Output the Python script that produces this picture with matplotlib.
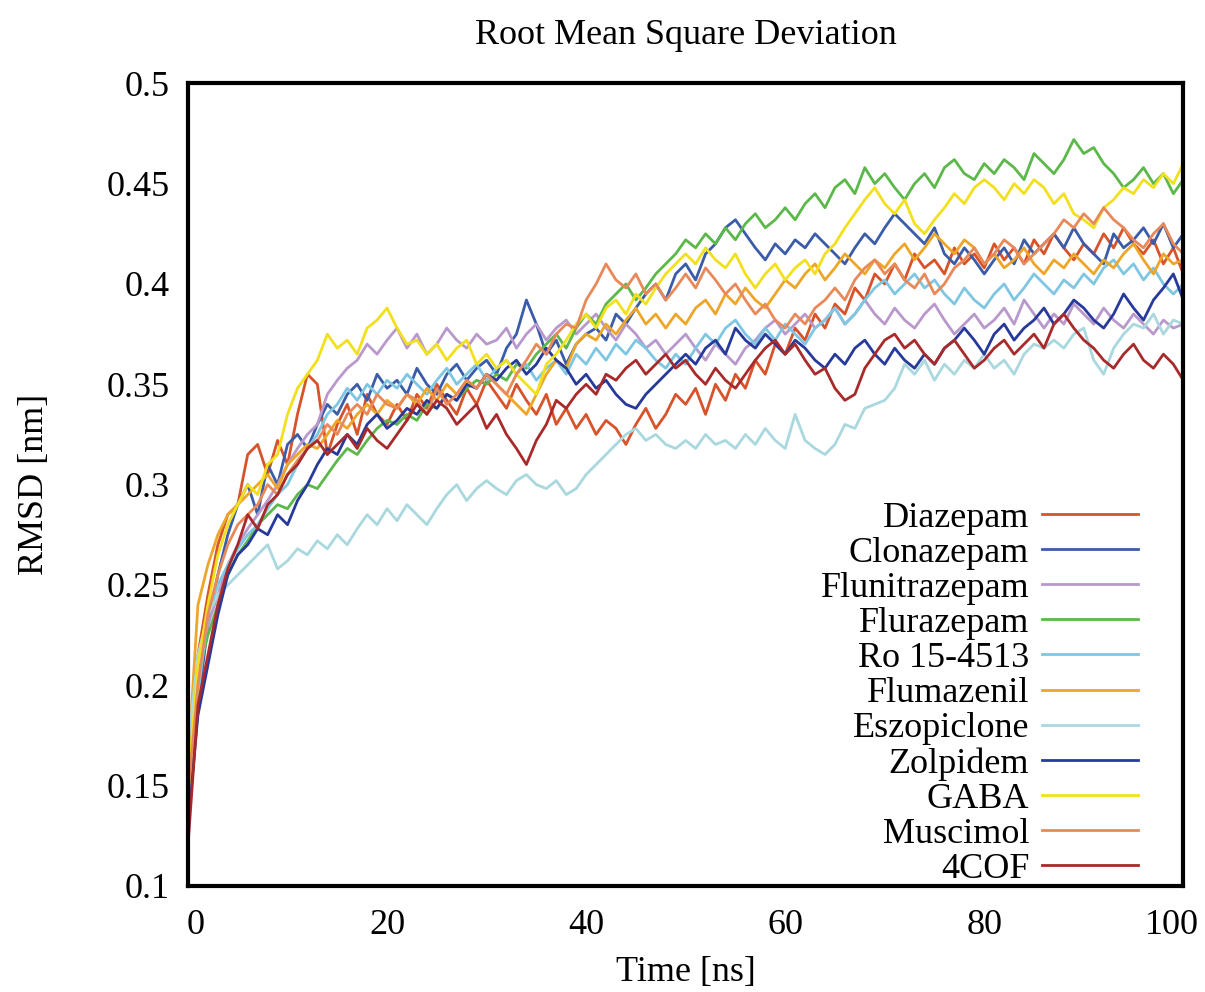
import numpy as np
import matplotlib
matplotlib.use("Agg")
import matplotlib.pyplot as plt
import matplotlib.transforms as mtransforms

plt.rcParams['font.family'] = ['Liberation Serif', 'DejaVu Serif']

# time axis, one sample per ns
time_ns = np.arange(0, 101)

# RMSD values, in 1e-3 nm
diazepam = [125, 215, 245, 270, 285, 290, 315, 320, 305, 322, 310,
            335, 355, 350, 315, 330, 340, 325, 345, 335, 330,
            340, 332, 345, 338, 350, 342, 335, 348, 340, 352,
            345, 338, 350, 342, 335, 345, 330, 338, 328, 335,
            325, 332, 328, 320, 330, 338, 328, 335, 345, 340,
            348, 335, 350, 342, 355, 348, 362, 355, 370, 365,
            378, 372, 385, 378, 390, 385, 398, 392, 405, 400,
            410, 402, 415, 408, 412, 405, 418, 410, 415, 408,
            420, 412, 418, 410, 422, 415, 425, 418, 412, 420,
            415, 425, 418, 428, 420, 415, 422, 410, 418, 405]
clonazepam = [140, 190, 230, 255, 275, 290, 300, 285, 310, 300, 320,
              325, 318, 330, 340, 335, 345, 350, 342, 355, 348,
              352, 345, 358, 350, 345, 355, 360, 352, 358, 362,
              355, 368, 375, 392, 380, 365, 372, 360, 370, 375,
              378, 372, 385, 380, 388, 395, 400, 392, 405, 410,
              402, 415, 420, 428, 432, 425, 418, 412, 420, 415,
              422, 418, 425, 420, 415, 410, 418, 425, 420, 428,
              435, 430, 425, 420, 428, 415, 410, 418, 412, 405,
              412, 418, 410, 422, 415, 420, 425, 418, 428, 420,
              415, 410, 425, 418, 422, 428, 420, 430, 418, 425]
flunitrazepam = [135, 200, 230, 245, 260, 270, 278, 285, 292, 300, 310,
                 318, 325, 330, 345, 352, 358, 362, 370, 365, 372,
                 378, 368, 375, 365, 370, 378, 372, 368, 375, 370,
                 372, 378, 368, 375, 380, 372, 378, 382, 375, 380,
                 385, 378, 372, 380, 375, 368, 372, 365, 370, 375,
                 368, 362, 370, 365, 360, 368, 372, 378, 382, 375,
                 380, 385, 378, 382, 388, 380, 385, 392, 385, 380,
                 388, 382, 378, 385, 390, 382, 375, 380, 385, 378,
                 382, 388, 380, 392, 385, 378, 385, 380, 390, 385,
                 380, 388, 382, 378, 385, 380, 375, 382, 378, 380]
flurazepam = [140, 205, 225, 240, 255, 265, 272, 280, 285, 290, 288,
              295, 300, 298, 305, 312, 318, 315, 322, 328, 332,
              330, 335, 332, 340, 338, 345, 342, 348, 352, 350,
              355, 352, 360, 358, 365, 370, 375, 368, 378, 385,
              380, 390, 395, 400, 392, 398, 405, 410, 415, 422,
              418, 425, 420, 428, 422, 430, 435, 428, 432, 438,
              432, 440, 445, 438, 448, 452, 445, 458, 450, 455,
              448, 442, 450, 455, 448, 458, 462, 455, 452, 460,
              455, 462, 458, 452, 465, 460, 455, 462, 472, 465,
              468, 460, 455, 448, 452, 458, 450, 455, 445, 452]
ro15_4513 = [150, 195, 235, 250, 260, 268, 275, 280, 288, 295, 300,
             310, 318, 325, 335, 340, 348, 342, 350, 345, 352,
             348, 355, 350, 345, 352, 358, 350, 355, 360, 352,
             358, 362, 355, 360, 352, 358, 362, 355, 365, 360,
             368, 362, 370, 365, 372, 368, 362, 358, 365, 360,
             368, 375, 370, 378, 382, 375, 370, 378, 372, 380,
             375, 370, 378, 382, 388, 380, 385, 392, 398, 402,
             395, 400, 405, 398, 402, 395, 390, 398, 392, 388,
             395, 400, 392, 398, 405, 400, 395, 402, 398, 405,
             400, 408, 412, 405, 410, 402, 408, 400, 395, 400]
flumazenil = [160, 240, 260, 275, 285, 290, 295, 300, 305, 298, 310,
              315, 320, 318, 325, 332, 328, 335, 340, 335, 342,
              338, 345, 340, 348, 342, 350, 345, 352, 348, 355,
              350, 345, 340, 335, 345, 355, 362, 358, 370, 375,
              372, 380, 375, 382, 388, 380, 385, 378, 385, 380,
              388, 392, 385, 395, 390, 398, 392, 388, 395, 402,
              398, 405, 410, 402, 408, 415, 410, 405, 412, 408,
              415, 420, 412, 418, 425, 420, 415, 422, 418, 410,
              415, 408, 412, 418, 410, 405, 412, 408, 415, 410,
              405, 412, 408, 415, 420, 412, 405, 415, 410, 412]
eszopiclone = [170, 215, 235, 245, 250, 255, 260, 265, 270, 258, 262,
               268, 265, 272, 268, 275, 270, 278, 285, 280, 288,
               282, 290, 285, 280, 288, 295, 300, 292, 298, 302,
               298, 295, 302, 305, 300, 298, 302, 295, 298, 305,
               310, 315, 320, 325, 328, 322, 325, 320, 318, 322,
               318, 325, 320, 322, 318, 325, 320, 328, 322, 318,
               335, 322, 318, 315, 320, 330, 328, 338, 340, 342,
               348, 360, 355, 362, 352, 360, 355, 362, 358, 365,
               358, 362, 355, 365, 370, 368, 372, 368, 375, 378,
               362, 355, 368, 375, 380, 378, 385, 375, 382, 380]
zolpidem = [130, 185, 210, 235, 255, 265, 270, 278, 275, 285, 280,
            292, 300, 310, 318, 315, 325, 320, 330, 335, 328,
            332, 338, 335, 342, 338, 345, 342, 350, 348, 355,
            352, 358, 362, 355, 360, 368, 362, 358, 350, 355,
            348, 352, 345, 340, 338, 345, 350, 355, 360, 365,
            360, 368, 372, 365, 378, 372, 368, 375, 370, 365,
            372, 368, 362, 358, 365, 360, 368, 372, 365, 360,
            368, 362, 358, 365, 360, 368, 372, 378, 372, 365,
            375, 380, 372, 378, 382, 388, 380, 385, 392, 388,
            382, 378, 385, 395, 388, 382, 392, 398, 405, 392]
gaba = [150, 210, 240, 265, 280, 290, 300, 295, 310, 315, 335,
        348, 355, 362, 375, 368, 372, 365, 378, 382, 388,
        378, 370, 372, 365, 370, 362, 368, 372, 360, 365,
        358, 362, 355, 350, 345, 360, 365, 372, 380, 385,
        378, 388, 392, 385, 395, 390, 398, 405, 410, 415,
        410, 418, 412, 408, 415, 405, 398, 405, 410, 402,
        408, 412, 405, 415, 420, 428, 435, 442, 448, 440,
        435, 442, 430, 425, 432, 438, 445, 440, 448, 452,
        448, 442, 450, 445, 452, 448, 440, 445, 435, 432,
        428, 438, 442, 448, 445, 452, 448, 455, 450, 460]
muscimol = [145, 200, 235, 255, 270, 280, 285, 290, 300, 295, 305,
            312, 318, 322, 330, 325, 335, 340, 335, 345, 340,
            338, 345, 342, 335, 348, 340, 345, 352, 348, 355,
            350, 345, 355, 362, 370, 365, 375, 380, 378, 392,
            400, 410, 402, 398, 405, 395, 400, 392, 398, 405,
            398, 408, 402, 395, 400, 392, 385, 390, 382, 378,
            385, 380, 388, 392, 398, 392, 402, 408, 412, 405,
            410, 402, 398, 405, 395, 400, 408, 412, 418, 410,
            415, 422, 418, 410, 415, 420, 425, 432, 428, 435,
            430, 438, 432, 428, 422, 418, 425, 430, 420, 415]
cof4 = [120, 190, 215, 240, 258, 270, 285, 278, 290, 295, 305,
        310, 318, 322, 315, 320, 325, 318, 328, 322, 318,
        325, 332, 340, 335, 342, 338, 330, 335, 340, 328,
        335, 325, 318, 310, 322, 330, 342, 338, 345, 350,
        345, 355, 352, 358, 362, 355, 360, 365, 358, 362,
        355, 350, 358, 352, 348, 355, 362, 368, 372, 365,
        370, 362, 355, 358, 348, 342, 345, 358, 365, 372,
        375, 368, 372, 365, 360, 368, 372, 365, 358, 362,
        368, 372, 365, 370, 375, 368, 380, 385, 378, 372,
        368, 362, 358, 365, 370, 362, 358, 365, 360, 352]

labels = ['Diazepam', 'Clonazepam', 'Flunitrazepam', 'Flurazepam', 'Ro 15-4513',
          'Flumazenil', 'Eszopiclone', 'Zolpidem', 'GABA', 'Muscimol', '4COF']
series = [diazepam, clonazepam, flunitrazepam, flurazepam, ro15_4513,
          flumazenil, eszopiclone, zolpidem, gaba, muscimol, cof4]
colors = ['#d8522a', '#3b5ca8', '#b998cc', '#5cb84a', '#7ec6e2',
          '#eda628', '#a9d8de', '#27399a', '#f2e01d', '#e8895a', '#a82a2a']

fig = plt.figure(figsize=(12.05, 9.92), dpi=100)
ax = fig.add_axes([0.156, 0.107, 0.826, 0.809])

for vals, lab, col in zip(series, labels, colors):
    ax.plot(time_ns, np.array(vals) / 1000.0, color=col, lw=2.0, label=lab)

ax.set_xlim(0, 100)
ax.set_ylim(0.1, 0.5)
ax.set_xticks([0, 20, 40, 60, 80, 100])
ax.set_yticks([0.1, 0.15, 0.2, 0.25, 0.3, 0.35, 0.4, 0.45, 0.5])
ax.set_yticklabels(['0.1', '0.15', '0.2', '0.25', '0.3', '0.35', '0.4', '0.45', '0.5'])
ax.tick_params(length=0, labelsize=26)
ax.tick_params(axis='x', pad=17)
ax.tick_params(axis='y', pad=13)
for sp in ax.spines.values():
    sp.set_linewidth(3)

# nudge the end labels inward like the original
xlabels = ax.get_xticklabels()
xlabels[0].set_transform(xlabels[0].get_transform() +
                         mtransforms.ScaledTranslation(8 / 100, 0, fig.dpi_scale_trans))
xlabels[-1].set_transform(xlabels[-1].get_transform() +
                          mtransforms.ScaledTranslation(-11 / 100, 0, fig.dpi_scale_trans))

ax.set_xlabel('Time [ns]', fontsize=26, labelpad=10)
ax.set_ylabel('RMSD [nm]', fontsize=26, labelpad=40)
ax.set_title('Root Mean Square Deviation', fontsize=26, pad=28)

leg = ax.legend(loc='lower right', bbox_to_anchor=(0.954, 0.0), frameon=False,
                markerfirst=False, fontsize=26, handlelength=2.65,
                handletextpad=0.35, labelspacing=0.05, borderaxespad=0,
                borderpad=0)
for t in leg.get_texts():
    t.set_ha('right')

fig.savefig('out.png', dpi=100)
